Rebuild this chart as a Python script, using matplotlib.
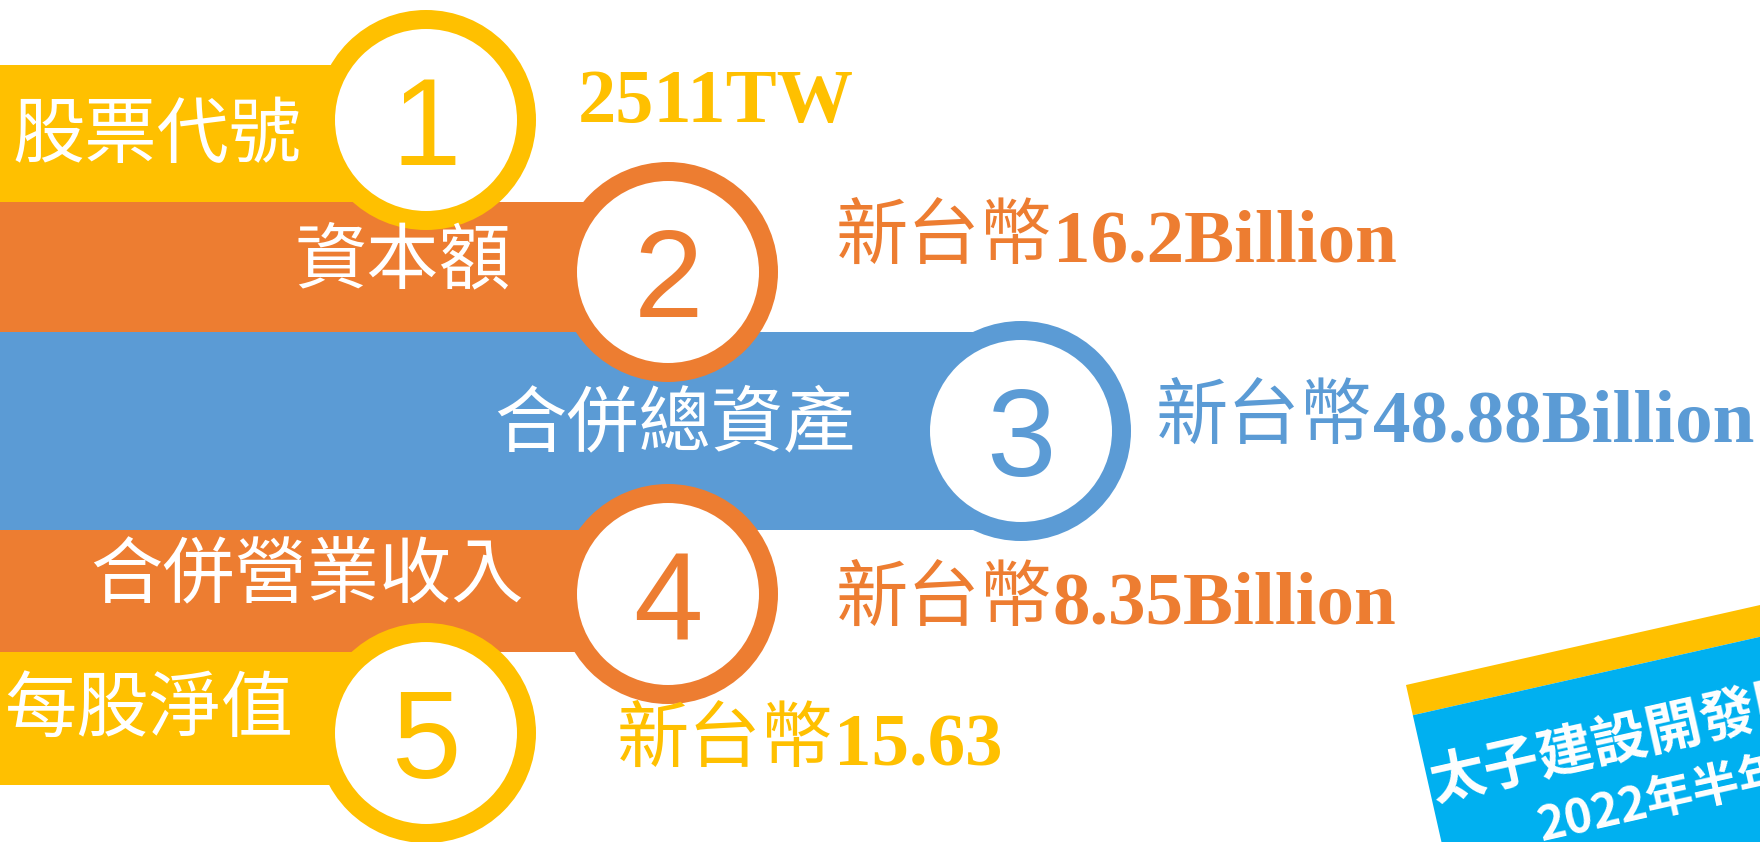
"""Key figures infographic: five ribbons with numbered rings and values."""
import matplotlib.pyplot as plt
from matplotlib.patches import Rectangle, Circle
from matplotlib.transforms import Affine2D

# content
labels = ["股票代號", "資本額", "合併總資產", "合併營業收入", "每股淨值"]
numbers = ["1", "2", "3", "4", "5"]
value_prefix = ["", "新台幣", "新台幣", "新台幣", "新台幣"]
value_nums = ["2511TW", "16.2Billion", "48.88Billion", "8.35Billion", "15.63"]
banner_lines = ["太子建設開發股份有限公司", "2022年半年報"]

YELLOW = "#FFC000"
ORANGE = "#ED7D31"
BLUE = "#5B9BD5"
SKY = "#00B0F0"
colors = [YELLOW, ORANGE, BLUE, ORANGE, YELLOW]

# layout (pixels, y downwards)
W, H = 1760, 842
band_top = [65, 202, 332, 530, 652]
band_bot = [202, 332, 530, 652, 785]
circle_x = [426, 668, 1021, 668, 426]
circle_y = [120, 272, 431, 594, 733]
label_x = [12, 294, 494, 90, 4]
label_y = [136, 262, 425, 577, 710]
value_x = [578, 836, 1156, 836, 617]
value_y = [96, 237, 417, 599, 740]
R_OUT, R_IN = 110, 91

CJK = ["Noto Sans CJK TC", "DejaVu Sans"]

fig = plt.figure(figsize=(W / 100, H / 100), dpi=100)
ax = fig.add_axes([0, 0, 1, 1])
ax.set_xlim(0, W)
ax.set_ylim(H, 0)
ax.axis("off")

# ribbons
for i in range(5):
    ax.add_patch(Rectangle((0, band_top[i]), circle_x[i], band_bot[i] - band_top[i],
                           fc=colors[i], ec="none", zorder=1))

# rings with numbers
for i in range(5):
    ax.add_patch(Circle((circle_x[i], circle_y[i]), R_OUT, fc=colors[i], ec="none", zorder=2))
    ax.add_patch(Circle((circle_x[i], circle_y[i]), R_IN, fc="white", ec="none", zorder=3))
    ax.text(circle_x[i], circle_y[i] + 45, numbers[i], color=colors[i], fontsize=90,
            family="Liberation Sans", ha="center", va="baseline", zorder=4)

# labels on ribbons
for i in range(5):
    ax.text(label_x[i], label_y[i], labels[i], color="white", fontsize=52,
            family=CJK, ha="left", va="center", zorder=4)

# values
for i in range(5):
    if value_prefix[i]:
        t = ax.text(value_x[i], value_y[i], value_prefix[i], color=colors[i], fontsize=52,
                    family=CJK, ha="left", va="center", zorder=4)
        ax.annotate(value_nums[i], xy=(1.0, value_y[i] + 25), xycoords=(t, "data"),
                    color=colors[i], fontsize=54, family="Liberation Serif",
                    weight="bold", ha="left", va="baseline", zorder=4)
    else:
        ax.text(value_x[i], value_y[i] + 26, value_nums[i], color=colors[i], fontsize=55,
                family="Liberation Serif", weight="bold", ha="left", va="baseline", zorder=4)

# tilted banner bottom right (runs off the page, as in the original)
bx, by, ang = 1406, 685, 12.73
rot = Affine2D().rotate_deg_around(bx, by, -ang) + ax.transData
ax.add_patch(Rectangle((bx, by), 800, 31, fc=YELLOW, ec="none", transform=rot, zorder=5))
ax.add_patch(Rectangle((bx, by + 31), 800, 400, fc=SKY, ec="none", transform=rot, zorder=5))
ax.text(bx + 2, by + 102, banner_lines[0], color="white", fontsize=40, weight="bold",
        family=CJK, ha="left", va="center", rotation=ang, rotation_mode="anchor",
        transform=rot, zorder=6)
ax.text(bx + 98, by + 168, banner_lines[1], color="white", fontsize=34, weight="bold",
        family=CJK, ha="left", va="center", rotation=ang, rotation_mode="anchor",
        transform=rot, zorder=6)

fig.savefig("out.png", dpi=100)
